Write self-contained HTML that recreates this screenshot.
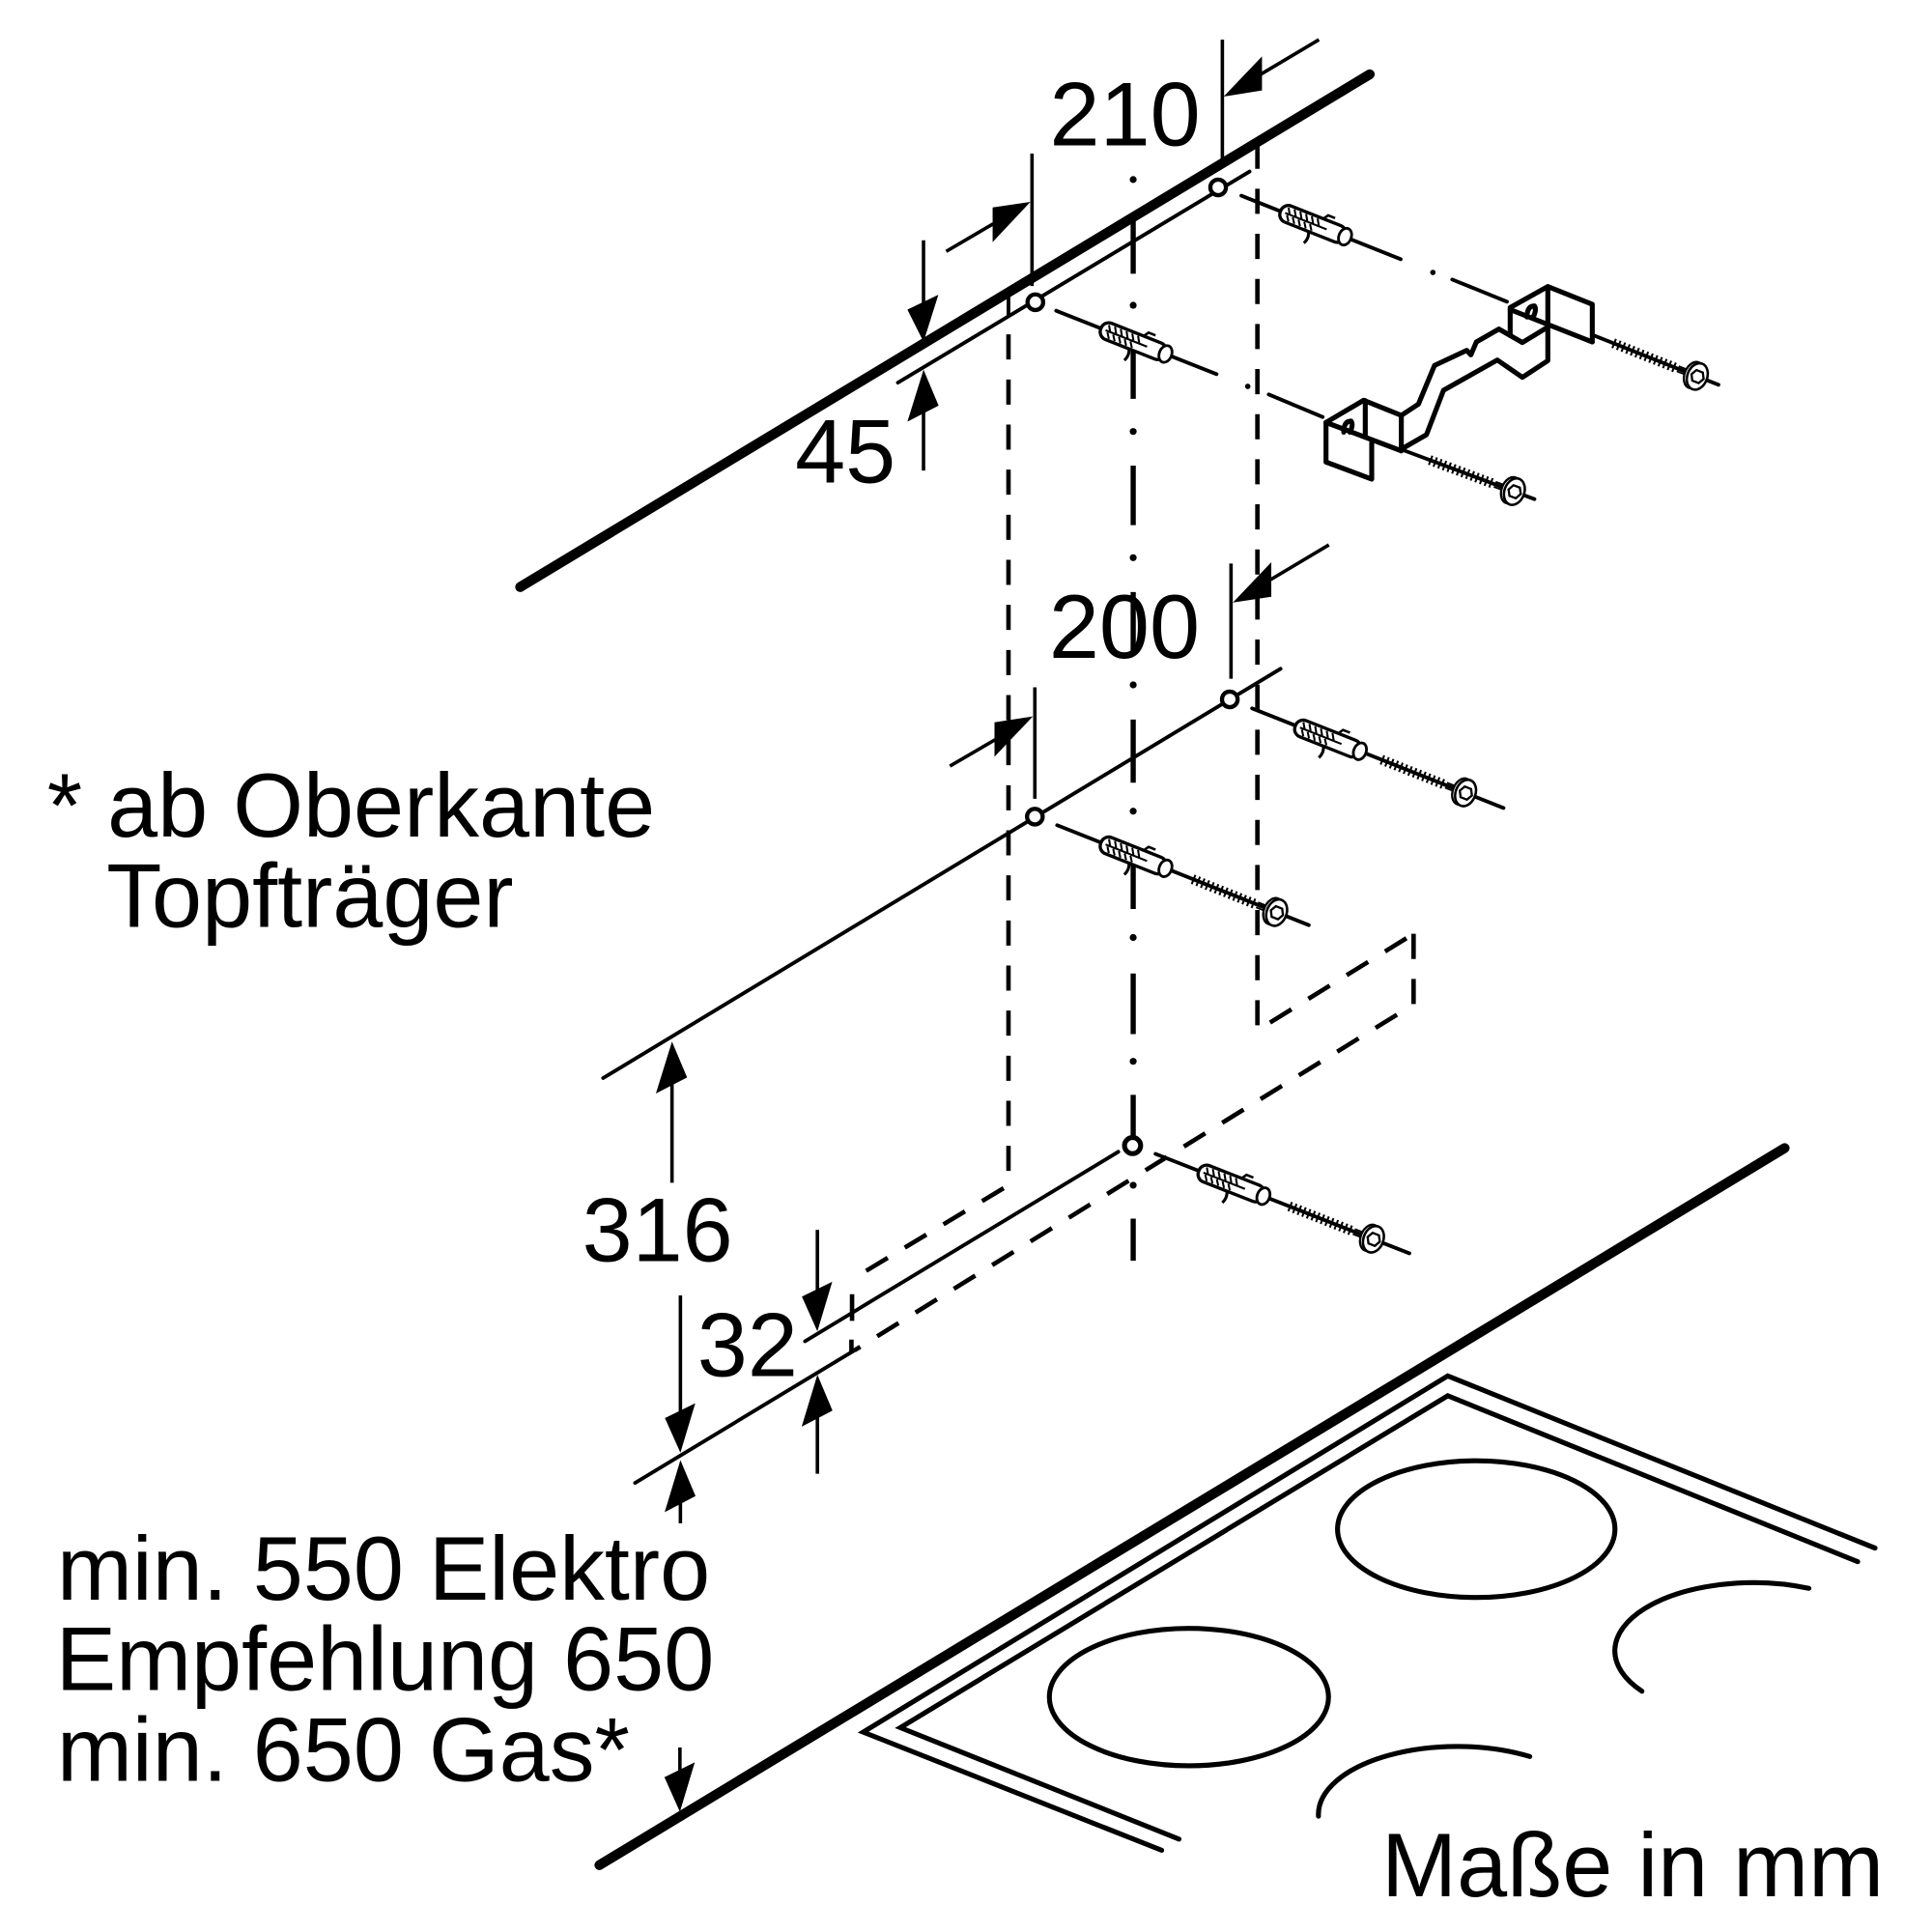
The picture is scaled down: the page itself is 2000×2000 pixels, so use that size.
<!DOCTYPE html>
<html><head><meta charset="utf-8"><style>
html,body{margin:0;padding:0;background:#fff;}
svg{display:block;}
text{font-family:"Liberation Sans",Arial,sans-serif;font-size:73px;fill:#000;}
</style></head><body>
<svg width="2000" height="2000" viewBox="0 0 1560 1560" xmlns="http://www.w3.org/2000/svg">
<defs>
 <g id="dowel">
  <path d="M26,5 q4,6 1,12" fill="none" stroke="#000" stroke-width="2.4"/>
  <path d="M33,-5 l4,-6 h6" fill="none" stroke="#000" stroke-width="2"/>
  <rect x="0" y="-7" width="56" height="14" rx="6.5" fill="#fff" stroke="#000" stroke-width="2.6"/>
  <ellipse cx="56" cy="0" rx="5" ry="7" fill="#fff" stroke="#000" stroke-width="2.2"/>
  <path d="M5,-5 l3,5 M10,-5.5 l3,5 M15,-5.5 l3,5 M20,-5.5 l3,5 M25,-5.5 l3,5 M30,-5.5 l3,5 M6,1 l3,4.5 M11,1 l3,4.5 M16,1 l3,4.5 M21,1 l3,4.5 M26,1 l3,4.5 M4,0 H40" stroke="#000" stroke-width="1.6" fill="none"/>
 </g>
 <g id="screw">
  <line x1="0" y1="0" x2="56" y2="0" stroke="#000" stroke-width="8" stroke-dasharray="1.6 2.4"/>
  <line x1="0" y1="0" x2="66" y2="0" stroke="#000" stroke-width="2.4"/>
  <path d="M56,-2.2 H66 M56,2.2 H66" stroke="#000" stroke-width="1.4"/>
  <ellipse cx="70" cy="0" rx="7.5" ry="11" fill="#fff" stroke="#000" stroke-width="1.8"/>
  <ellipse cx="73" cy="0" rx="8" ry="11" fill="#fff" stroke="#000" stroke-width="2"/>
  <polygon points="78.5,0 76,4.6 70.5,4.6 68,0 70.5,-4.6 76,-4.6" fill="#fff" stroke="#000" stroke-width="1.8"/>
 </g>
</defs>

<!-- thick wall line top -->
<g stroke="#000" fill="none" stroke-linecap="round">
 <line x1="420" y1="474" x2="1106" y2="60" stroke-width="8"/>
 <line x1="725" y1="309" x2="1009" y2="138.5" stroke-width="3"/>
 <line x1="814.3" y1="236.6" x2="814.3" y2="254.8" stroke-width="3"/>
</g>

<!-- dashed hidden lines -->
<g stroke="#000" fill="none" stroke-width="3.6" stroke-dasharray="20.3 16.1">
 <path d="M814.3,270 V957 L688,1033"/>
 <path d="M1015.3,116 V832 L1141.4,754"/>
 <path d="M1141.4,754 V811 L690,1090.3"/>
</g>
<path d="M688,1045 V1066.6 M687.5,1081.7 V1092.6" stroke="#000" stroke-width="3.6" fill="none"/>

<!-- center dash-dot line -->
<g stroke="#000" stroke-width="4.2" fill="none">
 <path d="M915,178 V221 M915,283 V322 M915,376 V424 M915,478 V526 M915,581 V632 M915,684 V734 M915,786 V835 M915,884 V921 M915,984 V1018"/>
</g>
<g fill="#000">
 <circle cx="915" cy="145" r="2.8"/><circle cx="915" cy="246.5" r="2.8"/><circle cx="915" cy="348.4" r="2.8"/>
 <circle cx="915" cy="450.3" r="2.8"/><circle cx="915" cy="553" r="2.8"/><circle cx="915" cy="655" r="2.8"/>
 <circle cx="915" cy="757" r="2.8"/><circle cx="915" cy="857" r="2.8"/><circle cx="915" cy="957" r="2.8"/>
</g>

<!-- solid thin lines -->
<g stroke="#000" fill="none" stroke-width="3" stroke-linecap="round">
 <line x1="487" y1="870.5" x2="1034" y2="540"/>
 <line x1="650" y1="1083" x2="903" y2="930"/>
 <line x1="512.8" y1="1197.4" x2="690" y2="1090.3"/>
 <path d="M1002.3,158 L1131,209.3 M1172.6,225.7 L1216.8,243.6"/>
 <path d="M852.8,250.9 L982.3,302.1 M1024.4,318.5 L1068,336.7"/>
 <path d="M1011,572 L1214,652.4"/>
 <path d="M853.6,666.3 L1056.8,747"/>
 <path d="M933,931.7 L1138,1012"/>
 <path d="M1285.7,270.4 L1387.6,310.7"/>
 <path d="M1131,362.7 L1239,403"/>
</g>
<circle cx="1157" cy="220" r="2.2" fill="#000"/>
<circle cx="1007.5" cy="312" r="2.2" fill="#000"/>

<!-- holes -->
<g stroke="#000" fill="#fff" stroke-width="3.4">
 <circle cx="836" cy="244" r="6.3"/>
 <circle cx="983.6" cy="151.3" r="6.3"/>
 <circle cx="835.6" cy="659.4" r="6.3"/>
 <circle cx="993" cy="564.7" r="6.3"/>
 <circle cx="914.5" cy="925" r="6.5" stroke-width="4"/>
</g>

<!-- dowels -->
<use href="#dowel" transform="translate(1034,170.5) rotate(21.6)"/>
<use href="#dowel" transform="translate(889,265.2) rotate(21.6)"/>
<use href="#dowel" transform="translate(1046,586) rotate(21.6)"/>
<use href="#dowel" transform="translate(889,680.4) rotate(21.7)"/>
<use href="#dowel" transform="translate(968,945.4) rotate(21.4)"/>

<!-- screws -->
<use href="#screw" transform="translate(1302.6,277.1) rotate(21.6)"/>
<use href="#screw" transform="translate(1154.4,371.4) rotate(20.5)"/>
<use href="#screw" transform="translate(1115.5,613.4) rotate(21.6)"/>
<use href="#screw" transform="translate(963,709.9) rotate(21.7)"/>
<use href="#screw" transform="translate(1041,974) rotate(21.4)"/>

<!-- bracket -->
<g stroke="#000" fill="none" stroke-width="4" stroke-linejoin="round" stroke-linecap="round">
 <path d="M1070.7,341.1 L1101.1,323.2 L1131.5,335.4 L1131.5,364"/>
 <path d="M1070.7,341.1 L1131.5,364"/>
 <path d="M1070.7,341.1 L1070.7,373.1 L1107.6,386.9 L1107.6,357.5"/>
 <path d="M1102.4,323.5 V353"/>
 <path d="M1085,349 q0,-9 6,-9 q2,3 -1,9"/>
 <path d="M1131.5,335.4 L1145.3,326.3 L1158.3,295.1 L1184.3,282.9 L1187.7,286.5 L1192.1,276.1 L1210.3,265.7 L1229.3,276.6 L1249.8,264.1"/>
 <path d="M1219.4,271 V248.3 L1249.8,231.4 L1285.7,245.7 V276.1"/>
 <path d="M1219.4,250 L1285.7,276.1"/>
 <path d="M1249.8,231.4 V291.2 L1229.3,304.7 L1209,290.7 L1165.6,315.1 L1151.8,351 L1131.5,362.7"/>
 <path d="M1233,256 q0,-9 6,-9 q2,3 -1,9"/>
</g>

<!-- dimension lines -->
<g stroke="#000" fill="none" stroke-width="2.8">
 <path d="M745.7,194 V252"/>
 <path d="M745.7,328 V380"/>
 <path d="M833.3,124 V231"/>
 <path d="M987,32 V130.5"/>
 <path d="M764,203 L802,180.7"/>
 <path d="M1018,60 L1065,32"/>
 <path d="M994,455 V548"/>
 <path d="M1026,468 L1073,440"/>
 <path d="M835.6,555 V645"/>
 <path d="M804,597 L767,618.6"/>
 <path d="M542.6,870 V955"/>
 <path d="M549.4,1046 V1145"/>
 <path d="M549.4,1205 V1230"/>
 <path d="M660,993 V1050"/>
 <path d="M660,1138 V1190"/>
 <path d="M549,1411 V1440"/>
</g>
<g fill="#000">
 <polygon points="745.7,276 732.7,250 757.7,238"/>
 <polygon points="745.7,298.5 732.7,340.5 757.9,327.5"/>
 <polygon points="832,163 801.5,167.5 801.5,195.5"/>
 <polygon points="988,78 1019,45.5 1019,73"/>
 <polygon points="995.5,486.5 1026.5,454 1026.5,481.8"/>
 <polygon points="834,578.5 803,583.2 803,611"/>
 <polygon points="542.6,841 529.6,883 554.8,870"/>
 <polygon points="549.4,1173 536.9,1145 561.4,1133"/>
 <polygon points="549.4,1179 536.7,1221 561.6,1208"/>
 <polygon points="660,1075 647.5,1047 672,1035"/>
 <polygon points="660,1110 647.3,1152 672.2,1139"/>
 <polygon points="549,1463 536.5,1435 561,1423"/>
</g>

<!-- hob -->
<g stroke="#000" fill="none" stroke-linecap="round" stroke-linejoin="miter">
 <line x1="484" y1="1506" x2="1441" y2="927" stroke-width="8"/>
 <path d="M1514,1250 L1169,1111 L697,1398.6 L938,1494" stroke-width="4"/>
 <path d="M1500,1261 L1169,1127 L727,1395 L952,1485" stroke-width="4"/>
 <ellipse cx="1192" cy="1234.7" rx="112" ry="55.2" stroke-width="4"/>
 <ellipse cx="960" cy="1370.3" rx="112.7" ry="55.5" stroke-width="4"/>
 <path d="M1460.6,1282.5 A112 55 0 0 0 1325.8,1365.6" stroke-width="4"/>
 <path d="M1235.2,1418.3 A112 55 0 0 0 1064.6,1466.5" stroke-width="4"/>
</g>

<!-- text -->
<text x="847.5" y="117.5">210</text>
<text x="642" y="389.5">45</text>
<text x="847" y="531">200</text>
<text x="38" y="675.3">* ab Oberkante</text>
<text x="86" y="748.5">Topfträger</text>
<text x="470" y="1018.3">316</text>
<text x="563" y="1111">32</text>
<text x="46" y="1291.7">min. 550 Elektro</text>
<text x="45" y="1364.5">Empfehlung 650</text>
<text x="46" y="1437.9">min. 650 Gas*</text>
<text x="1115.5" y="1531">Maße in mm</text>
</svg>
</body></html>
